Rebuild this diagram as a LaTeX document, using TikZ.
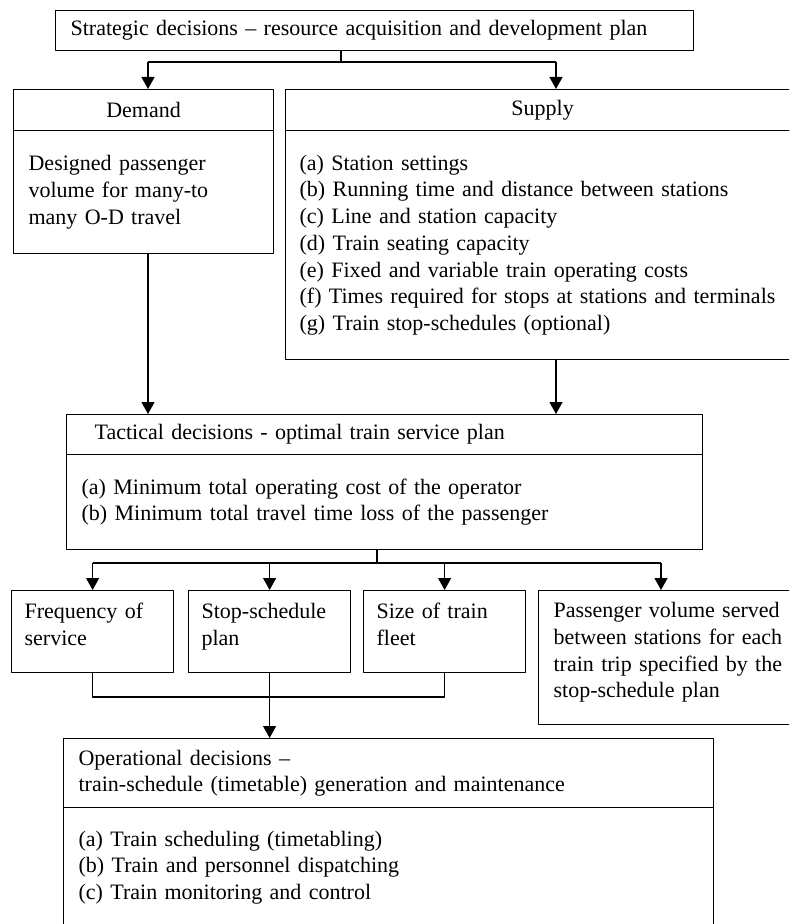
\documentclass[tikz,border=0pt]{standalone}
\usepackage{fontspec}
\setmainfont{Liberation Serif}
\usetikzlibrary{arrows.meta}

\begin{document}
\begin{tikzpicture}[x=0.5pt,y=-0.5pt,line width=0.6pt,line join=round,>={Triangle[width=6.5pt,length=6pt]},
  font=\fontsize{11}{13.35}\selectfont,
  box/.style 2 args={draw,anchor=north west,inner sep=0pt,minimum width=#1*0.5pt,minimum height=#2*0.5pt},
  lft/.style={align=left,text width=#1*0.5pt},
  lift/.style={text height=8pt,text depth=#1}]
\useasboundingbox (0,0) rectangle (789,924);
\clip (0,0) rectangle (789,924);
\node[box={638}{40},lft={608}] (strat) at (55,10) {Strategic decisions -- resource acquisition and development plan};
\node[box={260}{41}] (dhead) at (13,89) {Demand};
\node[box={260}{123},lft={230}] (dbody) at (13,130) {Designed passenger\\volume for many-to\\many O-D travel};
\node[box={514}{41}] (shead) at (285,89) {Supply};
\node[box={514}{229},lft={486}] (sbody) at (285,130) {(a) Station settings\\(b) Running time and distance between stations\\(c) Line and station capacity\\(d) Train seating capacity\\(e) Fixed and variable train operating costs\\(f) Times required for stops at stations and terminals\\(g) Train stop-schedules (optional)};
\node[box={636}{40},lft={580}] (thead) at (66,414) {Tactical decisions - optimal train service plan};
\node[box={636}{95},lft={606}] (tbody) at (66,454) {(a) Minimum total operating cost of the operator\\(b) Minimum total travel time loss of the passenger};
\foreach \n/\x/\t in {freq/11/{Frequency of\\service},stop/188/{Stop-schedule\\plan},size/363/{Size of train\\fleet}}
  \node[box={162}{82},lft={136},lift=21pt] (\n) at (\x,590) {\t};
\node[box={280}{134},lft={250},lift=48pt] (pass) at (538,590) {Passenger volume served\\between stations for each\\train trip specified by the\\stop-schedule plan};
\node[box={650}{69},lft={620}] (ohead) at (63,738) {Operational decisions --\\train-schedule (timetable) generation and maintenance};
\node[box={650}{120},lft={620}] (obody) at (63,807) {(a) Train scheduling (timetabling)\\(b) Train and personnel dispatching\\(c) Train monitoring and control};
\coordinate (s1) at (341,62);
\coordinate (fa) at (148,62);
\coordinate (fb) at (556,62);
\draw (strat.south -| s1) -- (s1);
\draw (fa) -- (fb);
\draw[->] (fa) -- (fa |- dhead.north);
\draw[->] (fb) -- (fb |- shead.north);
\draw[->] (dbody.south -| fa) -- (thead.north -| fa);
\draw[->] (sbody.south -| fb) -- (thead.north -| fb);
\coordinate (t1) at (377,563);
\coordinate (tp) at (661,563);
\draw (tbody.south -| t1) -- (t1);
\draw (freq.north |- t1) -- (tp);
\foreach \n in {freq,stop,size} \draw[->] (\n.north |- t1) -- (\n.north);
\draw[->] (tp) -- (tp |- pass.north);
\coordinate (j) at (269,697);
\draw (freq.south) |- (j) -| (size.south);
\draw[->] (stop.south) -- (ohead.north -| stop.south);
\end{tikzpicture}
\end{document}
